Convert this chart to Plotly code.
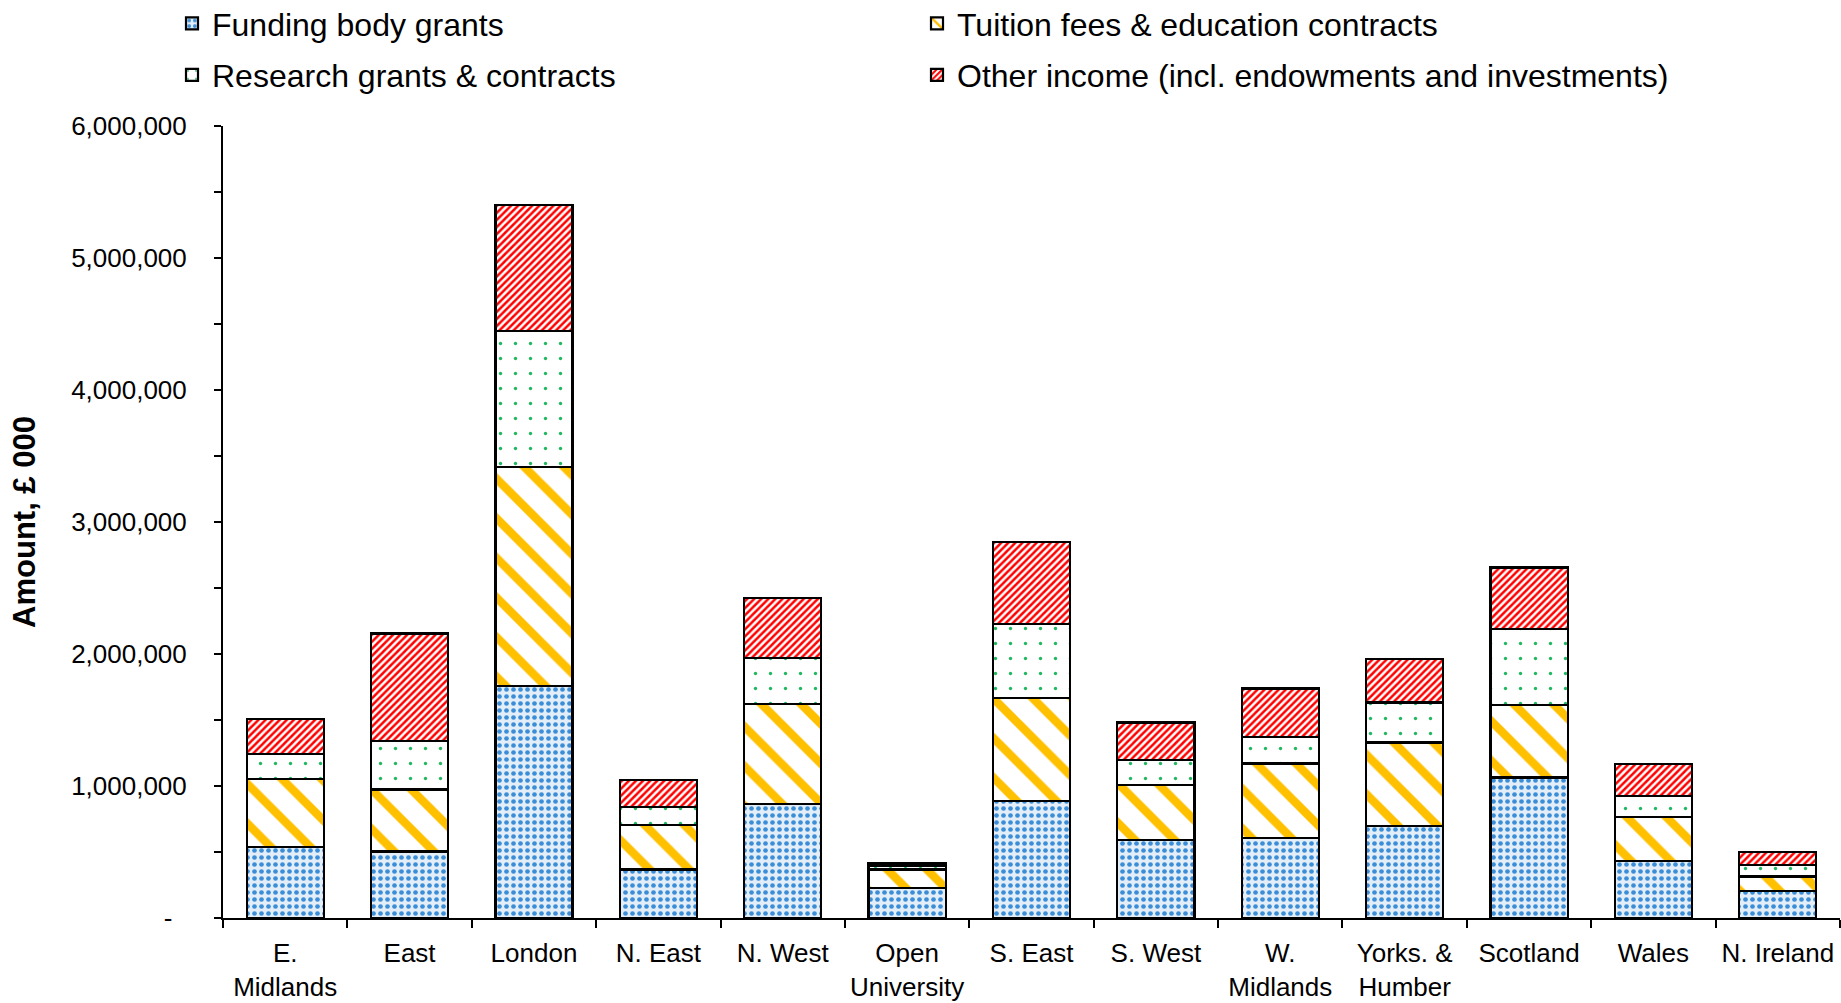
import plotly.graph_objects as go

regions = ["E.<br>Midlands", "East", "London", "N. East", "N. West", "Open<br>University",
           "S. East", "S. West", "W.<br>Midlands", "Yorks. &<br>Humber", "Scotland", "Wales", "N. Ireland"]

funding_body_grants = [540000, 504000, 1757000, 367000, 861000, 226000, 885000, 589000, 607000, 695000, 1065000, 434000, 205000]
tuition_fees = [511000, 470000, 1657000, 335000, 758000, 141000, 783000, 420000, 564000, 635000, 551000, 331000, 109000]
research_grants = [191000, 366000, 1030000, 141000, 353000, 28000, 558000, 187000, 198000, 303000, 574000, 159000, 85000]
other_income = [264000, 815000, 956000, 201000, 451000, 18000, 621000, 285000, 370000, 332000, 466000, 240000, 102000]

series_names = ["Funding body grants", "Tuition fees & education contracts",
                "Research grants & contracts", "Other income (incl. endowments and investments)"]

y_tick_values = [0, 500000, 1000000, 1500000, 2000000, 2500000, 3000000, 3500000,
                 4000000, 4500000, 5000000, 5500000, 6000000]
y_tick_labels = ["-\u00a0\u00a0", "", "1,000,000", "", "2,000,000", "", "3,000,000", "",
                 "4,000,000", "", "5,000,000", "", "6,000,000"]

FONT = "Liberation Sans, Arial, sans-serif"
W, H = 1841, 1003
L, R, T, B = 223, 1, 126, 85

styles = [
    dict(shape=".", fgcolor="#3a8dd6", bgcolor="#e3eef9", size=7, solidity=0.35),
    dict(shape="\\", fgcolor="#FFC000", bgcolor="white", size=28, solidity=0.3),
    dict(shape=".", fgcolor="#1fb85f", bgcolor="white", size=15, solidity=0.04),
    dict(shape="/", fgcolor="#FF0000", bgcolor="white", size=5, solidity=0.5),
]
data = [funding_body_grants, tuition_fees, research_grants, other_income]
legend_ids = ["legend", "legend2", "legend3", "legend4"]

fig = go.Figure()
for name, vals, st, lg in zip(series_names, data, styles, legend_ids):
    fig.add_trace(go.Bar(
        x=regions, y=vals, name=name, legend=lg, showlegend=True,
        marker=dict(color="white", pattern=dict(fillmode="replace", **st),
                    line=dict(color="black", width=2.2)),
    ))

plot_w = W - L - R
plot_h = H - T - B
col_x = [(172 - L) / plot_w, (172 + 745 - L) / plot_w]
row_y = [1 + (T - 23.5) / plot_h, 1 + (T - 75) / plot_h]

legend_common = dict(orientation="h", xanchor="left", yanchor="middle", traceorder="normal",
                     font=dict(family=FONT, size=32, color="black"),
                     bgcolor="rgba(0,0,0,0)", borderwidth=0, visible=True)

fig.update_layout(
    width=W, height=H, showlegend=True,
    margin=dict(l=L, r=R, t=T, b=B, pad=0, autoexpand=False),
    barmode="stack", bargap=0.38,
    plot_bgcolor="white", paper_bgcolor="white",
    font=dict(family=FONT, color="black", size=26),
    legend=dict(x=col_x[0], y=row_y[0], **legend_common),
    legend2=dict(x=col_x[1], y=row_y[0], **legend_common),
    legend3=dict(x=col_x[0], y=row_y[1], **legend_common),
    legend4=dict(x=col_x[1], y=row_y[1], **legend_common),
    xaxis=dict(type="category", range=[-0.5, len(regions) - 0.5],
               showline=True, linecolor="black", linewidth=2,
               ticks="outside", tickson="boundaries", ticklen=8, tickwidth=1.5, tickcolor="black",
               tickfont=dict(family=FONT, size=26, color="black"),
               showgrid=False, zeroline=False, tickangle=0, ticklabelstandoff=11),
    xaxis2=dict(overlaying="x", anchor="y", range=[-0.5, len(regions) - 0.5],
                tickmode="linear", tick0=-0.5, dtick=1,
                ticks="inside", ticklen=8, tickwidth=1.5, tickcolor="black",
                showticklabels=False, showgrid=False, zeroline=False, showline=False),
    yaxis=dict(range=[0, 6000000], tickvals=y_tick_values, ticktext=y_tick_labels,
               showline=True, linecolor="black", linewidth=2,
               ticks="outside", ticklen=7, tickwidth=1.5, tickcolor="black",
               tickfont=dict(family=FONT, size=26, color="black"),
               ticklabelstandoff=22,
               showgrid=False, zeroline=False,
               title=dict(text="<b>Amount, £ 000</b>", font=dict(family=FONT, size=31, color="black"),
                          standoff=26)),
)

fig.write_html("out.html", config={"displayModeBar": False},
               post_script="document.body.style.margin='0';document.body.style.overflow='hidden';")
